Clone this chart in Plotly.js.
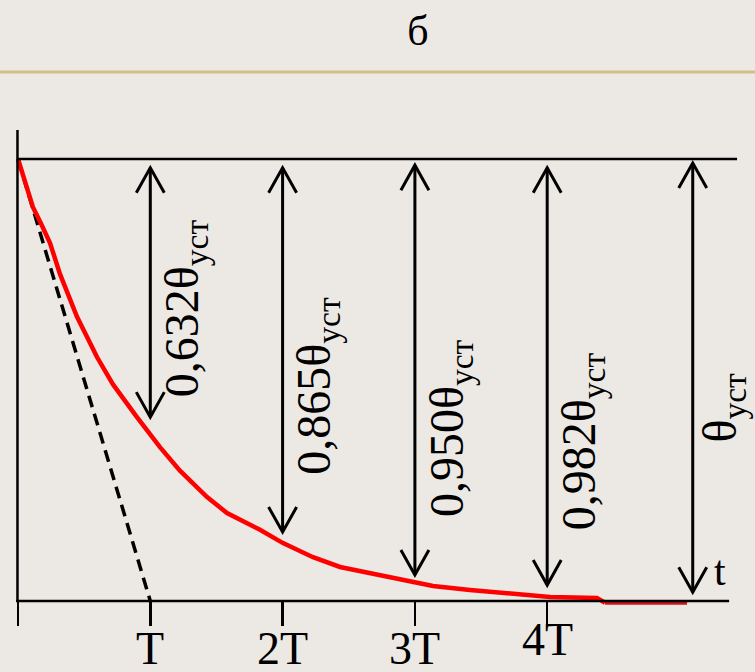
<!DOCTYPE html>
<html>
<head>
<meta charset="utf-8">
<script src="https://cdn.plot.ly/plotly-3.0.1.min.js"></script>
<style>
html,body{margin:0;padding:0;background:#ece8e3;}
#chart{width:755px;height:672px;}
</style>
</head>
<body>
<div id="chart"></div>
<script>
// ---- data (x in units of T, y as fraction of θ_уст measured from the axis) ----
const tickVals = [0, 1, 2, 3, 4];
const tickText = ['', 'T', '2T', '3T', '4T'];

const curveX = [0, 0.06, 0.113, 0.18, 0.242, 0.317, 0.446, 0.597, 0.718, 0.899, 1.073, 1.224, 1.429, 1.580, 1.829, 2.003, 2.230, 2.434, 2.736, 3.016, 3.137, 3.416, 3.719, 4.021, 4.376, 4.437];
const curveY = [1, 0.945, 0.891, 0.850, 0.810, 0.740, 0.643, 0.552, 0.490, 0.416, 0.348, 0.295, 0.235, 0.199, 0.161, 0.131, 0.099, 0.077, 0.059, 0.043, 0.034, 0.025, 0.016, 0.009, 0.007, -0.004];
const tailX = [4.437, 5.057];
const tailY = [-0.004, -0.004];

const tangentX = [0, 1];
const tangentY = [1, 0];

const arrowX = [1, 2, 3, 4, 5.1];
const arrowTop = [0.980, 0.980, 0.986, 0.980, 0.991];
const arrowBottom = [0.416, 0.156, 0.059, 0.036, 0.020];
const arrowLabels = ['0,632θ<sub>уст</sub>', '0,865θ<sub>уст</sub>', '0,950θ<sub>уст</sub>', '0,982θ<sub>уст</sub>', 'θ<sub>уст</sub>'];
const labelY = [0.663, 0.486, 0.391, 0.362, 0.437];

// ---- geometry helpers (pixel scale of the axes) ----
const PX_X = 132.3, PX_Y = 442;
const W = 755, H = 672;
const x0px = 18, y0px = 601;
const xRange = [-x0px / PX_X, (W - x0px) / PX_X];
const yRange = [(y0px - H) / PX_Y, y0px / PX_Y];
const headDX = 14 / PX_X, headDY = 25 / PX_Y;

const FONT = 'Liberation Serif';

const shapes = [];
// separator line under title
shapes.push({type:'line', xref:'paper', yref:'paper', x0:0, x1:1, y0:1-72/H, y1:1-72/H, line:{color:'#d3be85', width:3}});
// y axis line
shapes.push({type:'line', xref:'x', yref:'y', x0:-0.004, x1:-0.004, y0:(y0px-130)/PX_Y, y1:0, line:{color:'#000', width:2.5}});
// x axis line
shapes.push({type:'line', xref:'x', yref:'y', x0:-0.015, x1:5.375, y0:0, y1:0, line:{color:'#000', width:2.5}});
// steady-state line
shapes.push({type:'line', xref:'x', yref:'y', x0:0, x1:5.435, y0:1, y1:1, line:{color:'#000', width:2.5}});

const labelShift = [35, 35, 35, 35, 30];
const annotations = [];
arrowX.forEach((x, i) => {
  const t = arrowTop[i], b = arrowBottom[i];
  shapes.push({type:'line', xref:'x', yref:'y', x0:x, x1:x, y0:t, y1:b, line:{color:'#000', width:3}});
  shapes.push({type:'path', xref:'x', yref:'y',
    path:`M ${x-headDX},${t-headDY} L ${x},${t} L ${x+headDX},${t-headDY}`, line:{color:'#000', width:3}});
  shapes.push({type:'path', xref:'x', yref:'y',
    path:`M ${x-headDX},${b+headDY} L ${x},${b} L ${x+headDX},${b+headDY}`, line:{color:'#000', width:3}});
  annotations.push({x:x, y:labelY[i], xref:'x', yref:'y', xshift:labelShift[i], text:arrowLabels[i], textangle:-90,
    showarrow:false, xanchor:'center', yanchor:'middle', font:{family:FONT, size:48, color:'#000'}});
});
// tick labels under the axis
const tickLift = [0, 0, 0, 0, 9];
tickVals.forEach((v, i) => {
  if (!tickText[i]) return;
  annotations.push({x:v, y:0, xref:'x', yref:'y', yshift:-47 + tickLift[i], text:tickText[i], showarrow:false,
    xanchor:'center', yanchor:'middle', font:{family:FONT, size:46, color:'#000'}});
});
annotations.push({x:5.1, y:0, xref:'x', yref:'y', xshift:27, yshift:30, text:'t', showarrow:false,
  xanchor:'center', yanchor:'middle', font:{family:FONT, size:42, color:'#000'}});

const traces = [
  {x:tangentX, y:tangentY, type:'scatter', mode:'lines', line:{color:'#000', width:3.5, dash:'12px,7px'}, hoverinfo:'skip', cliponaxis:false},
  {x:curveX, y:curveY, type:'scatter', mode:'lines', line:{color:'#ff0000', width:4.5}, hoverinfo:'skip', cliponaxis:false},
  {x:tailX, y:tailY, type:'scatter', mode:'lines', line:{color:'#c8161a', width:4}, hoverinfo:'skip', cliponaxis:false}
];

const layout = {
  width:W, height:H,
  paper_bgcolor:'#ece8e3', plot_bgcolor:'rgba(0,0,0,0)',
  margin:{l:0, r:0, t:0, b:0, pad:0},
  showlegend:false,
  title:{text:'б', x:418/W, y:1-30/H, xanchor:'center', yanchor:'middle', xref:'paper', yref:'paper',
    font:{family:FONT, size:42, color:'#000'}},
  xaxis:{range:xRange, domain:[0,1], anchor:'free', position:(H-y0px)/H, automargin:false,
    showgrid:false, zeroline:false, showline:false, showticklabels:false,
    tickmode:'array', tickvals:tickVals, ticks:'outside', ticklen:24, tickwidth:2.5, tickcolor:'#000', fixedrange:true},
  yaxis:{range:yRange, domain:[0,1], visible:false, fixedrange:true},
  shapes:shapes,
  annotations:annotations
};

Plotly.newPlot('chart', traces, layout, {staticPlot:true, displayModeBar:false});
</script>
</body>
</html>
